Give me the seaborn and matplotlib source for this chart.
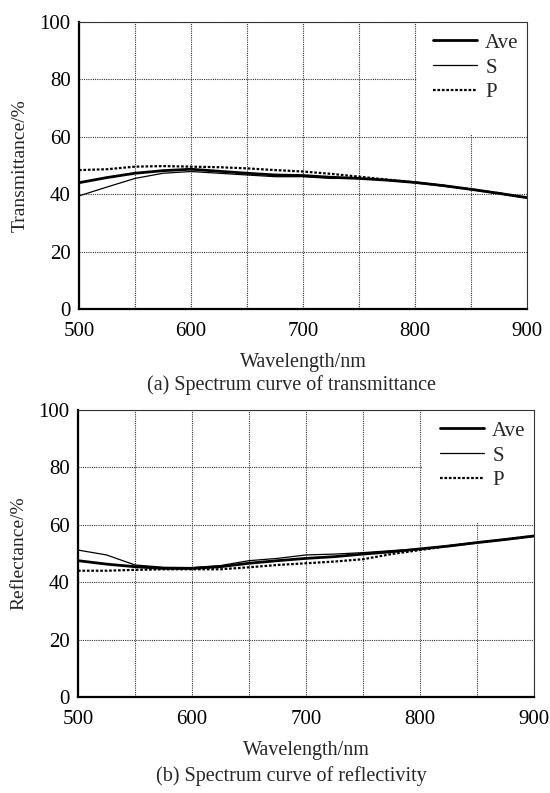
import matplotlib
matplotlib.use("Agg")
import matplotlib.pyplot as plt
from matplotlib.patches import Rectangle
import seaborn as sns
import pandas as pd

wavelength = [500, 525, 550, 575, 600, 625, 650, 675, 700, 725, 750, 775, 800, 825, 850, 875, 900]

trans_ave = [44.0, 45.8, 47.3, 48.2, 48.7, 48.0, 47.3, 46.7, 46.5, 45.9, 45.5, 44.9, 44.1, 43.0, 41.7, 40.3, 38.8]
trans_s = [39.4, 42.5, 45.5, 47.3, 47.9, 47.3, 46.7, 46.1, 46.1, 45.5, 45.5, 44.9, 44.1, 43.0, 41.7, 40.3, 38.8]
trans_p = [48.4, 48.7, 49.6, 49.8, 49.6, 49.4, 49.0, 48.4, 47.9, 47.1, 46.1, 45.1, 44.1, 43.0, 41.7, 40.3, 38.8]

refl_ave = [47.5, 46.3, 45.4, 44.8, 44.8, 45.4, 46.6, 47.5, 48.3, 48.9, 49.8, 50.6, 51.6, 52.6, 53.8, 54.9, 56.1]
refl_s = [51.2, 49.5, 46.0, 45.2, 45.1, 45.8, 47.5, 48.3, 49.5, 49.8, 50.3, 51.0, 51.6, 52.6, 53.8, 54.9, 56.1]
refl_p = [44.0, 44.0, 44.3, 44.5, 44.5, 44.5, 45.2, 46.0, 46.6, 47.2, 48.0, 49.8, 51.2, 52.6, 53.8, 54.9, 56.1]

series_names = ["Ave", "S", "P"]
x_ticks = [500, 600, 700, 800, 900]
y_ticks = [0, 20, 40, 60, 80, 100]

sns.set_style("white")
plt.rcParams['font.family'] = ['Liberation Serif', 'DejaVu Serif']

fig = plt.figure(figsize=(5.5, 7.93), dpi=100)
ax1 = fig.add_axes([79/550, 1-309/793, (527-79)/550, (309-22)/793])
ax2 = fig.add_axes([78/550, 1-697/793, (534-78)/550, (697-410)/793])

styles = {
    "Ave": dict(linewidth=2.0, linestyle="-"),
    "S": dict(linewidth=0.9, linestyle="-"),
    "P": dict(linewidth=1.6, linestyle=(0, (1.2, 0.8))),
}

def draw(ax, ave, s, p, ylabel):
    df = pd.DataFrame({"wl": wavelength * 3,
                       "val": ave + s + p,
                       "series": ["Ave"] * len(ave) + ["S"] * len(s) + ["P"] * len(p)})
    for name in series_names:
        sub = df[df["series"] == name]
        sns.lineplot(data=sub, x="wl", y="val", ax=ax, color="black",
                     label=name, zorder=3, **styles[name])
    ax.set_xlim(500, 900)
    ax.set_ylim(0, 100)
    ax.set_xticks(x_ticks)
    ax.set_yticks(y_ticks)
    ax.set_xticks([550, 650, 750, 850], minor=True)
    ax.grid(True, which="both", color="#333333", linestyle=(0, (1, 1)), linewidth=0.8, zorder=0)
    ax.set_axisbelow(True)
    # white area behind the legend that hides the grid
    ax.add_patch(Rectangle((0.755, 0.607), 0.245, 0.393, transform=ax.transAxes,
                           facecolor="white", edgecolor="none", zorder=1.5))
    for side in ["top", "right"]:
        ax.spines[side].set_linestyle((0, (1, 1)))
        ax.spines[side].set_linewidth(0.8)
        ax.spines[side].set_color("#333333")
    for side in ["left", "bottom"]:
        ax.spines[side].set_linewidth(1.6)
        ax.spines[side].set_color("black")
    ax.tick_params(axis="x", which="both", length=0, labelsize=15, pad=9, colors="black")
    ax.tick_params(axis="y", which="both", length=0, labelsize=15, pad=6, colors="black")
    ax.set_xlabel("Wavelength/nm", fontsize=14.5, labelpad=9)
    ax.set_ylabel(ylabel, fontsize=14, labelpad=8)
    leg = ax.legend(loc="upper right", bbox_to_anchor=(1.0, 0.99), fontsize=15,
                    handlelength=2.1, handletextpad=0.4, labelspacing=0.25,
                    frameon=False, borderpad=0.3, borderaxespad=0.1)

draw(ax1, trans_ave, trans_s, trans_p, "Transmittance/%")
draw(ax2, refl_ave, refl_s, refl_p, "Reflectance/%")

fig.text(0.53, 1-385/793, "(a) Spectrum curve of transmittance", ha="center", va="center", fontsize=14.5)
fig.text(0.53, 1-776/793, "(b) Spectrum curve of reflectivity", ha="center", va="center", fontsize=14.5)

fig.savefig("out.png", dpi=100)
